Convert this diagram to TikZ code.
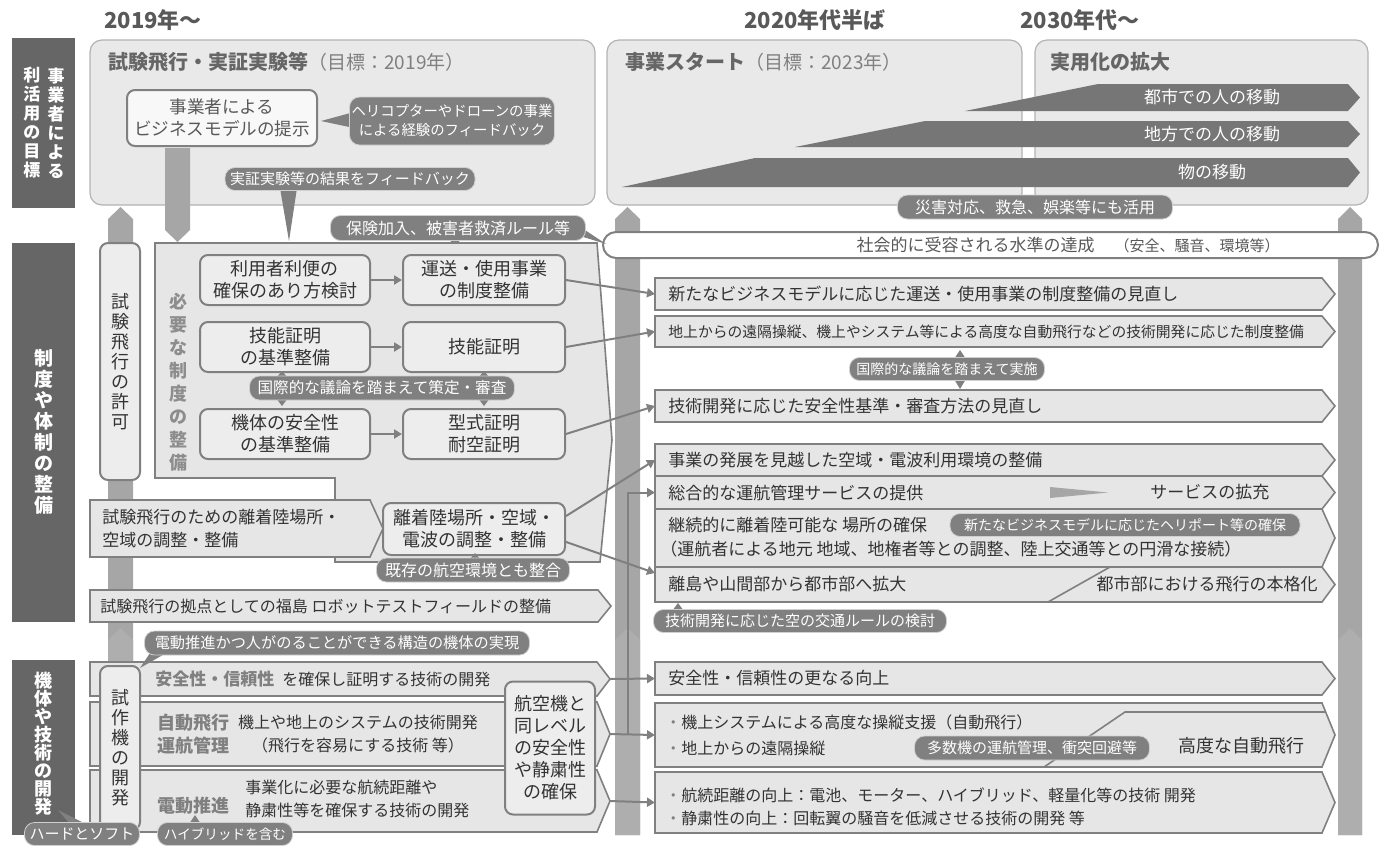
\documentclass[tikz,border=0pt]{standalone}
\usepackage{fontspec}
\setmainfont{Noto Sans CJK JP}
\usetikzlibrary{arrows.meta}

\definecolor{barc}{HTML}{666666}
\definecolor{panelc}{HTML}{E9E9E9}
\definecolor{edgec}{HTML}{B3B3B3}
\definecolor{framec}{HTML}{808080}
\definecolor{boxc}{HTML}{EDEDED}
\definecolor{chevc}{HTML}{E6E6E6}
\definecolor{notec}{HTML}{808080}
\definecolor{notel}{HTML}{D0D0D0}
\definecolor{pillarc}{HTML}{A6A6A6}
\definecolor{pillarlo}{HTML}{AEAEAE}
\definecolor{rampc}{HTML}{767676}
\definecolor{inkc}{HTML}{333333}
\definecolor{labc}{HTML}{808080}
\definecolor{headc}{HTML}{595959}

\tikzset{
  catbar/.style={fill=barc},
  cattext/.style={text=white, inner sep=0pt, align=center, font=\fontsize{9.5}{10.5}\selectfont\bfseries},
  panel/.style={fill=panelc, draw=edgec, line width=0.6pt, rounded corners=6pt},
  heading/.style={text=headc, inner sep=0pt, font=\fontsize{11}{13}\selectfont\bfseries},
  paneltitle/.style={anchor=west, inner sep=0pt, text=barc, font=\fontsize{10}{12}\selectfont\bfseries},
  ibox/.style={fill=boxc, draw=framec, line width=1pt, rounded corners=4pt, align=center, text=inkc, inner sep=1pt, font=\fontsize{9}{11}\selectfont},
  vbox/.style={ibox, font=\fontsize{9}{10}\selectfont},
  notebox/.style={fill=notec, draw=notel, line width=0.4pt, rounded corners=5pt, text=white, align=center, inner sep=0pt, font=\fontsize{7.5}{9.5}\selectfont},
  pointer/.style={fill=notec},
  chev/.style={fill=chevc, draw=framec, line width=0.8pt},
  rowtext/.style={anchor=west, inner sep=0pt, text=inkc, align=left, font=\fontsize{8.5}{11}\selectfont},
  lab/.style={text=labc, inner sep=0pt, align=left, font=\fontsize{9}{11.5}\selectfont\bfseries},
  pillar/.style={fill=pillarc},
  ramp/.style={fill=rampc},
  ramptext/.style={text=white, inner sep=0pt, font=\fontsize{8.5}{10}\selectfont},
  link/.style={draw=framec, line width=1pt, -{Triangle[length=4pt,width=4.5pt]}},
}

\newcommand{\chevshape}[5]{%
  \draw[chev] (#2,#3) -- (#4,#3) -- ({#4+13},{(#3+#5)/2}) -- (#4,#5) -- (#2,#5) -- cycle;
  \coordinate (#1w) at (#2,{(#3+#5)/2});
  \coordinate (#1e) at ({#4+13},{(#3+#5)/2});
}

\begin{document}
\begin{tikzpicture}[x=0.5pt, y=-0.5pt]
    \useasboundingbox (0,0) rectangle (1399,848);

    % Pillars
    \fill[pillar] (108,835) -- (108,219) -- (120.5,207) -- (133,219) -- (133,835) -- cycle;
    \fill[pillar] (615,835) -- (615,219) -- (627.5,207) -- (640,219) -- (640,835) -- cycle;
    \fill[pillar] (1338,835) -- (1338,219) -- (1350,207) -- (1362,219) -- (1362,835) -- cycle;
    \fill[pillarlo] (108,835) -- (108,640) -- (120.5,628) -- (133,640) -- (133,835) -- cycle;
    \fill[pillarlo] (615,835) -- (615,640) -- (627.5,628) -- (640,640) -- (640,835) -- cycle;
    \fill[pillarlo] (1338,835) -- (1338,640) -- (1350,628) -- (1362,640) -- (1362,835) -- cycle;

    % Headings
    \node[heading] (h2019) at (153,20) {2019年～};
    \node[heading] (h2020) at (815,20) {2020年代半ば};
    \node[heading] (h2030) at (1080,20) {2030年代～};

    % Goal panels
    \draw[panel] (90,40) rectangle (595,205);
    \draw[panel] (607,40) rectangle (1022,205);
    \draw[panel] (1035,40) rectangle (1368,205);
    \node[paneltitle] (tA) at (108,62) {試験飛行・実証実験等{\mdseries\fontsize{9.5}{11}\selectfont\color{labc}（目標：2019年）}};
    \node[paneltitle] (tB) at (625,62) {事業スタート{\mdseries\fontsize{9.5}{11}\selectfont\color{labc}（目標：2023年）}};
    \node[paneltitle] (tC) at (1050,62) {実用化の拡大};

    % Ramps
    \fill[ramp] (965,111) -- (1098,84) -- (1348,84) -- (1360,97.5) -- (1348,111) -- cycle;
    \fill[ramp] (795,147) -- (925,121) -- (1348,121) -- (1360,134) -- (1348,147) -- cycle;
    \fill[ramp] (622,187) -- (755,158) -- (1348,158) -- (1360,172.5) -- (1348,187) -- cycle;
    \node[ramptext] (city) at (1212,97.5) {都市での人の移動};
    \node[ramptext] (rural) at (1212,134) {地方での人の移動};
    \node[ramptext] (goods) at (1212,172.5) {物の移動};

    % Operators
    \node[ibox, text=headc, fill=white!60!boxc, font=\fontsize{8.8}{11}\selectfont, minimum width=95pt, minimum height=28pt] (biz) at (222,118) {事業者による\\ビジネスモデルの提示};
    \fill[pointer] (354,112) -- (354,128) -- (321,121) -- cycle;
    \node[notebox, font=\fontsize{7.2}{9.5}\selectfont, minimum width=102.5pt, minimum height=24pt] (heli) at (452,121) {ヘリコプターやドローンの事業\\による経験のフィードバック};
    \fill[pillar] (165,148) -- (190,148) -- (190,230) -- (177.5,242) -- (165,230) -- cycle;
    \fill[pointer] (280,188) -- (297,188) -- (289,241) -- cycle;
    \node[notebox, minimum width=125pt, minimum height=11.5pt] (result) at (350,179) {実証実験等の結果をフィードバック};

    % Acceptance bar
    \draw[fill=white, draw=framec, line width=1pt, rounded corners=6.5pt] (603,232) rectangle (1378,258);
    \node[text=headc, inner sep=0pt, font=\fontsize{8.5}{10}\selectfont] (accept) at (1068,245) {社会的に受容される水準の達成\hspace{10pt}{\fontsize{7.5}{9}\selectfont（安全、騒音、環境等）}};
    \node[notebox, font=\fontsize{8}{10}\selectfont, minimum width=137.5pt, minimum height=12pt] (disaster) at (1035,207) {災害対応、救急、娯楽等にも活用};
    \fill[pointer] (576,224) -- (580,236) -- (606,244) -- cycle;
    \fill[pointer] (449,239) -- (461,239) -- (455,247) -- cycle;
    \node[notebox, font=\fontsize{8}{10}\selectfont, minimum width=127.5pt, minimum height=12.5pt] (insure) at (458,228) {保険加入、被害者救済ルール等};

    % Category bars
    \fill[catbar] (12,38) rectangle (75,208);
    \fill[catbar] (12,243) rectangle (75,622);
    \fill[catbar] (12,660) rectangle (75,835);
    \node[cattext, font=\fontsize{8.5}{9.5}\selectfont\bfseries] (catAl) at (32,123) {利\\活\\用\\の\\目\\標};
    \node[cattext, font=\fontsize{8.5}{9.5}\selectfont\bfseries] (catAr) at (56,123) {事\\業\\者\\に\\よ\\る};
    \node[cattext] (catB) at (43.5,432) {制\\度\\や\\体\\制\\の\\整\\備};
    \node[cattext, font=\fontsize{9}{9}\selectfont\bfseries] (catC) at (43.5,744) {機\\体\\や\\技\\術\\の\\開\\発};

    % Rules and systems
    \draw[chev] (155,243) -- (597,243) -- (612,440) -- (600,562) -- (335,562) -- (335,478) -- (155,478) -- cycle;
    \node[vbox, minimum width=20pt, minimum height=118.5pt] (permit) at (120,361.5) {試\\験\\飛\\行\\の\\許\\可};
    \node[lab, align=center, text=labc!90!white, font=\fontsize{9}{11.5}\selectfont\bfseries] (needs) at (178,382) {必\\要\\な\\制\\度\\の\\整\\備};
    \node[ibox, minimum width=85pt, minimum height=25pt] (user) at (285,280) {利用者利便の\\確保のあり方検討};
    \node[ibox, minimum width=81pt, minimum height=25pt] (trans) at (484,280) {運送・使用事業\\の制度整備};
    \node[ibox, minimum width=85pt, minimum height=25pt] (skillstd) at (285,347) {技能証明\\の基準整備};
    \node[ibox, minimum width=81pt, minimum height=25pt] (skill) at (484,347) {技能証明};
    \node[ibox, minimum width=85pt, minimum height=25pt] (airstd) at (285,434) {機体の安全性\\の基準整備};
    \node[ibox, minimum width=81pt, minimum height=25pt] (typecert) at (484,434) {型式証明\\耐空証明};
    \draw[link] (user) -- (trans);
    \draw[link] (skillstd) -- (skill);
    \draw[link] (airstd) -- (typecert);
    \fill[pointer] (276,378) -- (288,378) -- (282,371) -- cycle;
    \fill[pointer] (276,398) -- (288,398) -- (282,406) -- cycle;
    \fill[pointer] (478,378) -- (490,378) -- (484,371) -- cycle;
    \fill[pointer] (478,398) -- (490,398) -- (484,406) -- cycle;
    \node[notebox, font=\fontsize{7.8}{10}\selectfont, minimum width=132.5pt, minimum height=12pt] (intlA) at (382,388) {国際的な議論を踏まえて策定・審査};

    \chevshape{lport}{90}{500}{370}{557}
    \node[rowtext, font=\fontsize{8.5}{11.5}\selectfont] (testport) at (102,528.5) {試験飛行のための離着陸場所・\\空域の調整・整備};
    \node[ibox, minimum width=91pt, minimum height=26pt] (port) at (474,529) {離着陸場所・空域・\\電波の調整・整備};
    \fill[pointer] (469,560) -- (481,560) -- (475,553) -- cycle;
    \node[notebox, font=\fontsize{8}{10}\selectfont, minimum width=96.5pt, minimum height=12pt] (exist) at (473,570) {既存の航空環境とも整合};
    \chevshape{lfuku}{90}{590}{598}{622}
    \node[rowtext, font=\fontsize{8}{10}\selectfont] (fuku) at (100,606) {試験飛行の拠点としての福島 ロボットテストフィールドの整備};

    % Rules and systems, mid 2020s
    \chevshape{ra}{655}{278}{1322}{310}
    \chevshape{rb}{655}{316}{1322}{347}
    \chevshape{rc}{655}{390}{1322}{422}
    \chevshape{rd}{655}{444}{1322}{476}
    \chevshape{re}{655}{476}{1322}{509}
    \chevshape{rf}{655}{509}{1322}{567}
    \chevshape{rg}{655}{567}{1322}{602}
    \node[rowtext] (raT) at (668,294) {新たなビジネスモデルに応じた運送・使用事業の制度整備の見直し};
    \node[rowtext, font=\fontsize{7.4}{9}\selectfont] (rbT) at (668,331.5) {地上からの遠隔操縦、機上やシステム等による高度な自動飛行などの技術開発に応じた制度整備};
    \fill[pointer] (954,359) -- (966,359) -- (960,350) -- cycle;
    \fill[pointer] (954,379) -- (966,379) -- (960,389) -- cycle;
    \node[notebox, font=\fontsize{7}{9}\selectfont, minimum width=97.5pt, minimum height=11.5pt] (intlB) at (947,369) {国際的な議論を踏まえて実施};
    \node[rowtext] (rcT) at (668,406) {技術開発に応じた安全性基準・審査方法の見直し};
    \node[rowtext] (rdT) at (668,460) {事業の発展を見越した空域・電波利用環境の整備};
    \node[rowtext] (reT) at (668,492.5) {総合的な運航管理サービスの提供};
    \fill[pillar] (1050,487) -- (1108,492.5) -- (1050,498) -- cycle;
    \node[rowtext] (reT2) at (1150,492.5) {サービスの拡充};
    \node[rowtext] (rfT) at (668,525) {継続的に離着陸可能な 場所の確保};
    \node[notebox, font=\fontsize{7}{9}\selectfont, minimum width=175pt, minimum height=11.5pt] (heliport) at (1125,525) {新たなビジネスモデルに応じたヘリポート等の確保};
    \node[rowtext] (rfT2) at (660,549) {（運航者による地元 地域、地権者等との調整、陸上交通等との円滑な接続）};
    \draw[framec, line width=0.8pt] (1048,602) -- (1110,567);
    \node[rowtext] (rgT) at (668,584.5) {離島や山間部から都市部へ拡大};
    \node[rowtext, anchor=east] (rgT2) at (1318,584.5) {都市部における飛行の本格化};
    \fill[pointer] (672,611) -- (684,611) -- (678,603) -- cycle;
    \node[notebox, minimum width=146.5pt, minimum height=11.5pt] (airrule) at (800,621) {技術開発に応じた空の交通ルールの検討};

    % Aircraft and technology
    \chevshape{lsafe}{90}{662}{597}{696}
    \chevshape{lauto}{90}{702}{597}{766}
    \chevshape{lelec}{90}{770}{597}{832}
    \node[rowtext, font=\fontsize{8}{10}\selectfont] (safe) at (155,679) {{\color{labc}\bfseries\fontsize{8.5}{10}\selectfont 安全性・信頼性}\hspace{4pt}を確保し証明する技術の開発};
    \node[lab, anchor=west] (autolab) at (157,734) {自動飛行\\運航管理};
    \node[rowtext, anchor=center, align=center, font=\fontsize{8}{11.5}\selectfont] (autoT) at (358,734) {機上や地上のシステムの技術開発\\（飛行を容易にする技術 等）};
    \node[lab, anchor=west] (eleclab) at (157,806) {電動推進};
    \node[rowtext, font=\fontsize{8}{11.5}\selectfont] (elecT) at (245,798.5) {事業化に必要な航続距離や\\静粛性等を確保する技術の開発};
    \node[vbox, minimum width=20pt, minimum height=82pt] (proto) at (120,748) {試\\作\\機\\の\\開\\発};
    \node[ibox, minimum width=45pt, minimum height=66.5pt] (samelvl) at (550,748) {航空機と\\同レベル\\の安全性\\や静粛性\\の確保};
    \fill[pointer] (152,650) -- (168,652) -- (140,668) -- cycle;
    \node[notebox, font=\fontsize{7.6}{9.5}\selectfont, minimum width=192.5pt, minimum height=12pt] (evtol) at (337,643) {電動推進かつ人がのることができる構造の機体の実現};
    \fill[pointer] (70,824) -- (86,824) -- (58,810) -- cycle;
    \node[notebox, minimum width=57.5pt, minimum height=11.5pt] (hard) at (82,834) {ハードとソフト};
    \fill[pointer] (189,824) -- (201,824) -- (195,815) -- cycle;
    \node[notebox, font=\fontsize{6.8}{9}\selectfont, minimum width=67.5pt, minimum height=11.5pt] (hybrid) at (225,834) {ハイブリッドを含む};

    % Aircraft and technology, mid 2020s
    \chevshape{rh}{655}{662}{1322}{695}
    \chevshape{ri}{655}{703}{1322}{767}
    \chevshape{rj}{655}{772}{1322}{833}
    \node[rowtext] (rhT) at (668,678.5) {安全性・信頼性の更なる向上};
    \draw[framec, line width=0.8pt] (1325,712) -- (1125,712) -- (1044,767);
    \node[rowtext, font=\fontsize{8}{10}\selectfont] (riT) at (665,722) {{\color{labc}・}機上システムによる高度な操縦支援（自動飛行）};
    \node[rowtext, font=\fontsize{8}{10}\selectfont] (riT2) at (665,748) {{\color{labc}・}地上からの遠隔操縦};
    \node[notebox, minimum width=117.5pt, minimum height=12pt] (multi) at (1032,748) {多数機の運航管理、衝突回避等};
    \node[rowtext, font=\fontsize{9}{10}\selectfont] (riT3) at (1178,746) {高度な自動飛行};
    \node[rowtext, font=\fontsize{8}{10}\selectfont] (rjT) at (665,795) {{\color{labc}・}航続距離の向上：電池、モーター、ハイブリッド、軽量化等の技術 開発};
    \node[rowtext, font=\fontsize{8}{10}\selectfont] (rjT2) at (665,818) {{\color{labc}・}静粛性の向上：回転翼の騒音を低減させる技術の開発 等};

    % Links
    \coordinate (rgt) at (655,573);
    \coordinate (jn) at (628,734);
    \draw[link] (trans.east) -- (raw);
    \draw[link] (skill.east) -- (rbw);
    \draw[link] (typecert.east) -- (rcw);
    \draw[link] (port.8) -- (rdw);
    \draw[link] (port.-8) -- (rgt);
    \draw[link] (jn) |- (rew);
    \draw[link] (lsafee) -- (rhw);
    \draw[link] (lautoe) -- (riw);
    \draw[link] (lelece) -- (rjw);
\end{tikzpicture}
\end{document}
